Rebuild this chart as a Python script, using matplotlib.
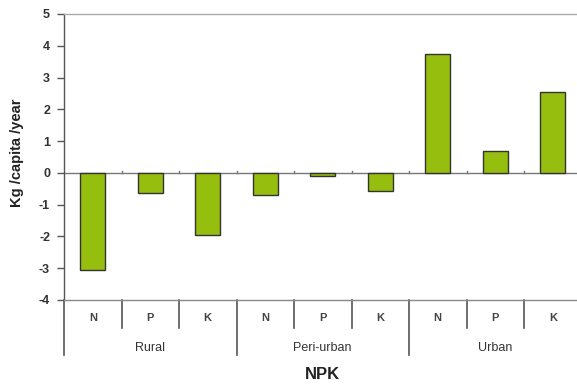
import matplotlib
matplotlib.use("Agg")
import matplotlib.pyplot as plt
import matplotlib.transforms as mtransforms

plt.rcParams['font.family'] = ['Liberation Sans', 'DejaVu Sans']

groups = ["Rural", "Peri-urban", "Urban"]
nutrients = ["N", "P", "K"]
values = [-3.05, -0.62, -1.95,
          -0.70, -0.10, -0.57,
          3.75, 0.68, 2.55]
yticks = [5, 4, 3, 2, 1, 0, -1, -2, -3, -4]

fig = plt.figure(figsize=(5.77, 3.87), dpi=100)
ax = fig.add_axes([64 / 577, 1 - 300 / 387, 517.5 / 577, 286 / 387])

n = len(values)
centers = [i + 0.5 for i in range(n)]
ax.bar(centers, values, width=0.43, color="#96be0f", edgecolor="#333333",
       linewidth=1.0, zorder=3)

ax.set_xlim(0, n)
ax.set_ylim(-4, 5)
ax.set_yticks(yticks)
ax.set_yticklabels([str(t) for t in yticks], fontsize=9, fontweight="bold",
                   color="#333333")
ax.tick_params(axis="y", direction="out", length=5, width=1, color="#555555",
               pad=5)
ax.set_xticks([])

ax.spines["right"].set_visible(False)
ax.spines["top"].set_color("#aaaaaa")
ax.spines["top"].set_linewidth(1.0)
ax.spines["bottom"].set_color("#888888")
ax.spines["bottom"].set_linewidth(1.0)
ax.spines["left"].set_color("#555555")
ax.spines["left"].set_linewidth(1.0)

# zero line with small category ticks
ax.axhline(0, color="#777777", linewidth=1.0, zorder=2)
for b in range(1, n):
    ax.plot([b, b], [0, 0.07], color="#777777", linewidth=1.0, zorder=2)

fig.text(17.5 / 577, 1 - 153 / 387, "Kg /capita /year", rotation=90,
         ha="center", va="center", fontsize=10.5, fontweight="bold",
         color="#222222")

# multi-level category axis below the plot
trans = mtransforms.blended_transform_factory(ax.transData, ax.transAxes)
for b in range(0, n + 1):
    bottom = -0.192 if b % 3 == 0 else -0.098
    ax.plot([b, b], [0, bottom], transform=trans, clip_on=False,
            color="#555555", linewidth=1.2)

for i in range(n):
    ax.text(centers[i], -0.063, nutrients[i % 3], transform=trans,
            ha="center", va="center", fontsize=8, fontweight="bold",
            color="#444444")

for g, name in enumerate(groups):
    ax.text(g * 3 + 1.5, -0.168, name, transform=trans, ha="center",
            va="center", fontsize=9, color="#333333")

ax.text(4.5, -0.262, "NPK", transform=trans, ha="center", va="center",
        fontsize=12, fontweight="bold", color="#222222")

fig.savefig("out.png", dpi=100)
